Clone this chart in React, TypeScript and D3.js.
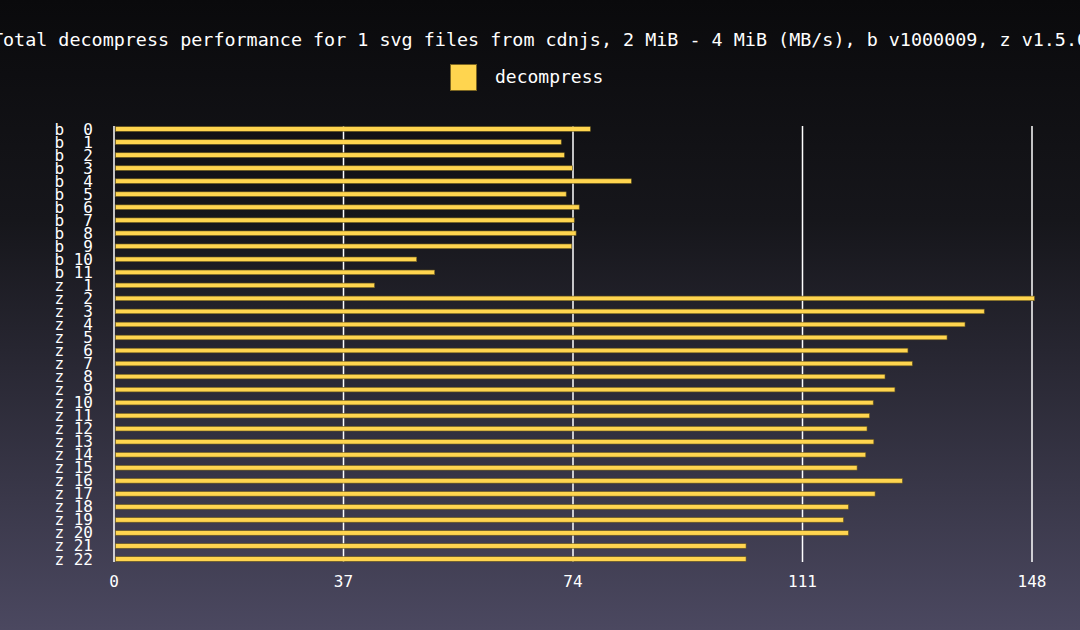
import { useEffect } from 'react';
import * as d3 from 'd3';

const TITLE =
  'Total decompress performance for 1 svg files from cdnjs, 2 MiB - 4 MiB (MB/s), b v1000009, z v1.5.0';
const SERIES_NAME = 'decompress';

const engines = [
  'b', 'b', 'b', 'b', 'b', 'b', 'b', 'b', 'b', 'b', 'b', 'b',
  'z', 'z', 'z', 'z', 'z', 'z', 'z', 'z', 'z', 'z', 'z',
  'z', 'z', 'z', 'z', 'z', 'z', 'z', 'z', 'z', 'z', 'z',
];
const levels = [
  0, 1, 2, 3, 4, 5, 6, 7, 8, 9, 10, 11,
  1, 2, 3, 4, 5, 6, 7, 8, 9, 10, 11, 12, 13, 14, 15, 16, 17, 18, 19, 20, 21, 22,
];
const speeds = [
  76.8, 72.1, 72.6, 73.9, 83.4, 72.9, 75.0, 74.2, 74.5, 73.8, 48.8, 51.7,
  42.0, 148.4, 140.3, 137.2, 134.3, 128.0, 128.7, 124.3, 125.9, 122.4, 121.8,
  121.4, 122.5, 121.2, 119.8, 127.1, 122.7, 118.4, 117.6, 118.4, 101.9, 101.9,
];
const xTicks = [0, 37, 74, 111, 148];

const W = 1080;
const H = 630;
const FONT = '"DejaVu Sans Mono", "Liberation Mono", monospace';
const BAR = '#ffd54f';

export default function App() {
  useEffect(() => {
    document.body.style.margin = '0';
  }, []);

  const rows = engines.map((e, i) => ({
    label: `${e} ${String(levels[i]).padStart(2, ' ')}`,
    value: speeds[i],
    key: `${e}${levels[i]}`,
  }));

  const x = d3.scaleLinear().domain([0, 148]).range([114, 1032]);
  const y = d3
    .scalePoint<string>()
    .domain(rows.map((r) => r.key))
    .range([129, 559]);
  const barH = 4.6;
  const gridTop = 126;
  const gridBottom = 562;

  return (
    <svg
      width={W}
      height={H}
      viewBox={`0 0 ${W} ${H}`}
      style={{ display: 'block', fontFamily: FONT }}
    >
      <defs>
        <linearGradient id='bg' x1='0' y1='0' x2='0' y2='1'>
          <stop offset='0%' stopColor='#0a0a0c' />
          <stop offset='35%' stopColor='#16161b' />
          <stop offset='100%' stopColor='#4b4860' />
        </linearGradient>
      </defs>
      <rect width={W} height={H} fill='url(#bg)' />

      <text
        x={W / 2}
        y={46}
        textAnchor='middle'
        fill='#ffffff'
        fontSize={18.4}
      >
        {TITLE}
      </text>

      {/* legend */}
      <rect
        x={450.5}
        y={64.5}
        width={26}
        height={26}
        fill={BAR}
        stroke='#7a6420'
        strokeWidth={1}
      />
      <text x={495} y={83} fill='#ffffff' fontSize={18}>
        {SERIES_NAME}
      </text>

      {/* grid */}
      {xTicks.map((t) => (
        <line
          key={t}
          x1={x(t)}
          x2={x(t)}
          y1={gridTop}
          y2={gridBottom}
          stroke='#ffffff'
          strokeWidth={1.5}
        />
      ))}

      {/* bars */}
      {rows.map((r) => (
        <rect
          key={r.key}
          x={x(0) + 1.5}
          y={(y(r.key) ?? 0) - barH / 2}
          width={x(r.value) - x(0) - 1.5}
          height={barH}
          fill={BAR}
          stroke='#6b5a1e'
          strokeWidth={0.6}
        />
      ))}

      {/* y labels */}
      {rows.map((r) => (
        <text
          key={r.key}
          x={93}
          y={(y(r.key) ?? 0) + 5.5}
          textAnchor='end'
          fill='#ffffff'
          fontSize={16}
          style={{ whiteSpace: 'pre' }}
        >
          {r.label}
        </text>
      ))}

      {/* x ticks */}
      {xTicks.map((t) => (
        <text
          key={t}
          x={x(t)}
          y={587}
          textAnchor='middle'
          fill='#ffffff'
          fontSize={16}
        >
          {t}
        </text>
      ))}
    </svg>
  );
}
